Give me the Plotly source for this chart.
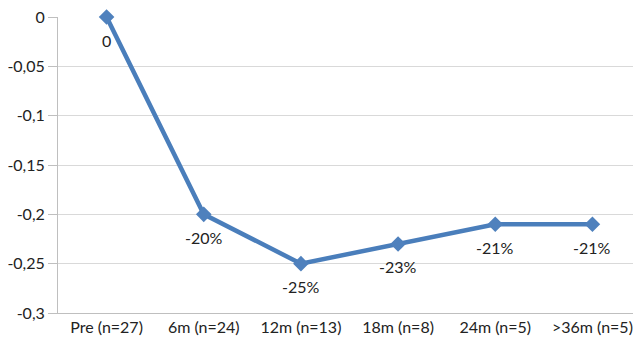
import plotly.graph_objects as go

categories = ["Pre (n=27)", "6m (n=24)", "12m (n=13)", "18m (n=8)", "24m (n=5)", ">36m (n=5)"]
values = [0, -0.20, -0.25, -0.23, -0.21, -0.21]
labels = ["0", "-20%", "-25%", "-23%", "-21%", "-21%"]
y_ticks = [0, -0.05, -0.1, -0.15, -0.2, -0.25, -0.3]
y_tick_labels = ["0", "-0,05", "-0,1", "-0,15", "-0,2", "-0,25", "-0,3"]

FONT = "Lato, Open Sans, Liberation Sans, sans-serif"

fig = go.Figure()
fig.add_trace(go.Scatter(
    x=categories, y=values, mode="lines+markers",
    line=dict(color="#4a7ebb", width=4.5),
    marker=dict(symbol="diamond", size=12, color="#4f81bd"),
    cliponaxis=False,
))
for c, v, t in zip(categories, values, labels):
    fig.add_annotation(x=c, y=v, text=t, showarrow=False, yshift=-23,
                       font=dict(family=FONT, size=16, color="#222"))
fig.update_layout(
    width=633, height=338,
    margin=dict(l=50, r=0, t=9, b=33),
    plot_bgcolor="white", paper_bgcolor="white",
    showlegend=False,
    font=dict(family=FONT, size=16, color="#222"),
)
fig.update_xaxes(showgrid=False, showline=True, linecolor="#bfbfbf", linewidth=1,
                 ticks="", automargin=False, ticklabeloverflow="allow",
                 range=[-0.5, 5.5], tickfont=dict(size=16))
fig.update_yaxes(range=[-0.3, 0], tickvals=y_ticks, ticktext=y_tick_labels,
                 showgrid=True, gridcolor="#d9d9d9", gridwidth=1,
                 showline=True, linecolor="#bfbfbf", zeroline=False, automargin=False,
                 ticklabeloverflow="allow",
                 ticks="outside", ticklen=9, tickcolor="#bfbfbf",
                 tickfont=dict(size=16))
fig.write_html("out.html")
